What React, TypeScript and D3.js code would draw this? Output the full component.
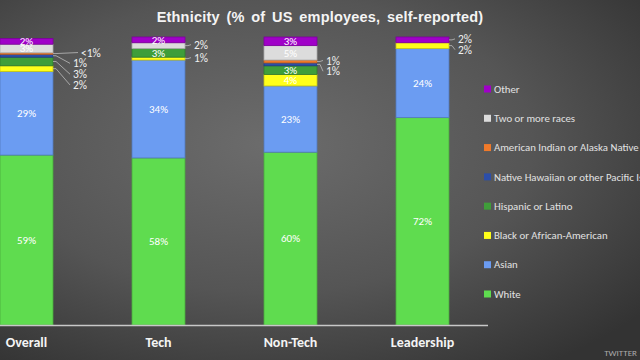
import React from 'react';
import * as d3 from 'd3';

const categories = ['Overall', 'Tech', 'Non-Tech', 'Leadership'];
// stacking order, bottom to top
const seriesNames = [
  'White',
  'Asian',
  'Black or African-American',
  'Hispanic or Latino',
  'Native Hawaiian or other Pacific Islander',
  'American Indian or Alaska Native',
  'Two or more races',
  'Other',
];
const seriesColors = ['#5fdc4f', '#6b9cf2', '#ffff1a', '#3f9e3a', '#2c4ea8', '#f07a2a', '#dcdcdc', '#a000c8'];

const white = [59, 58, 60, 72];
const asian = [29, 34, 23, 24];
const black = [2, 1, 4, 2];
const hispanic = [3, 3, 3, 0];
const hawaiian = [1, 0, 1, 0];
const americanIndian = [0.5, 0, 1, 0];
const twoOrMore = [3, 2, 5, 0];
const other = [2, 2, 3, 2];
const seriesValues = [white, asian, black, hispanic, hawaiian, americanIndian, twoOrMore, other];

// how each segment label is shown: 'in' inside, 'out' with a leader line, '' none
const labelModes = [
  ['in', 'in', 'in', 'in'],
  ['in', 'in', 'in', 'in'],
  ['out', 'out', 'in', 'out'],
  ['out', 'in', 'in', ''],
  ['out', '', 'out', ''],
  ['out', '', 'out', ''],
  ['in', 'out', 'in', ''],
  ['in', 'in', 'in', 'out'],
];
const labelText = (v: number) => (v < 1 ? '<1%' : `${v}%`);

const legendOrder = [7, 6, 5, 4, 3, 2, 1, 0];

const W = 640;
const H = 360;

export default function App() {
  const x = d3.scaleBand<string>().domain(categories).range([0, 449]).paddingInner(79 / 132).paddingOuter(0);
  const y = d3.scaleLinear().domain([0, 100]).range([325, 37]);

  const rows = categories.map((c, i) => {
    const r: any = { cat: c };
    seriesNames.forEach((s, k) => (r[s] = seriesValues[k][i]));
    return r;
  });
  const stacked = d3.stack<any>().keys(seriesNames)(rows);

  const legendY = d3.scalePoint<number>().domain(legendOrder).range([89, 294]);

  const font = 'Calibri, Carlito, "Open Sans", "DejaVu Sans", sans-serif';

  return (
    <svg width={W} height={H} style={{ position: 'absolute', left: 0, top: 0 }}>
      <defs>
        <radialGradient id="bg" cx="0.42" cy="0.4" r="0.75">
          <stop offset="0" stopColor="#6c6c6c" />
          <stop offset="0.55" stopColor="#555" />
          <stop offset="1" stopColor="#333" />
        </radialGradient>
      </defs>
      <rect width={W} height={H} fill="url(#bg)" />
      <text
        x={320}
        y={22}
        textAnchor="middle"
        fill="#f4f4f4"
        fontFamily="Arial, 'Liberation Sans', sans-serif"
        fontWeight="bold"
        fontSize={14.5}
        letterSpacing={0.2}
        wordSpacing={2.5}
      >
        Ethnicity (% of US employees, self-reported)
      </text>

      {stacked.map((layer, k) =>
        layer.map((d, i) => {
          const v = seriesValues[k][i];
          if (!v) return null;
          const fill = seriesColors[k];
          return (
            <rect
              key={`${k}-${i}`}
              x={x(categories[i])}
              y={y(d[1])}
              width={x.bandwidth()}
              height={y(d[0]) - y(d[1])}
              fill={fill}
              stroke={d3.color(fill)!.darker(0.7).toString()}
              strokeWidth={0.8}
            />
          );
        })
      )}

      {/* inside labels */}
      {stacked.map((layer, k) =>
        layer.map((d, i) => {
          const v = seriesValues[k][i];
          if (!v || labelModes[k][i] !== 'in') return null;
          return (
            <text
              key={`in-${k}-${i}`}
              x={x(categories[i])! + x.bandwidth() / 2}
              y={(y(d[0]) + y(d[1])) / 2}
              dy="0.35em"
              textAnchor="middle"
              fill="#fff"
              fontFamily={font}
              fontSize={11}
            >
              {labelText(v)}
            </text>
          );
        })
      )}

      {/* outside labels with leader lines */}
      {categories.map((c, i) => {
        const items = seriesNames
          .map((_, k) => k)
          .filter((k) => seriesValues[k][i] && labelModes[k][i] === 'out')
          .reverse();
        const right = x(c)! + x.bandwidth();
        const gap = items.length > 2 ? 20 : 9;
        let prev = -Infinity;
        return items.map((k) => {
          const d = stacked[k][i];
          const mid = (y(d[0]) + y(d[1])) / 2;
          const ly = Math.max(mid - 1, prev + 10.8);
          prev = ly;
          const tx = right + gap + (seriesValues[k][i] < 1 ? 8 : 0);
          return (
            <g key={`out-${k}-${i}`}>
              <polyline
                points={`${right},${mid} ${right + 3},${mid} ${tx - 3},${ly}`}
                fill="none"
                stroke="#bbb"
                strokeWidth={0.8}
              />
              <text x={tx} y={ly} dy="0.35em" fill="#f0f0f0" fontFamily={font} fontSize={11.5}>
                {labelText(seriesValues[k][i])}
              </text>
            </g>
          );
        });
      })}

      <line x1={0} x2={488} y1={325.5} y2={325.5} stroke="#c8c8c8" strokeWidth={1.5} />

      {categories.map((c) => (
        <text
          key={c}
          x={x(c)! + x.bandwidth() / 2}
          y={347}
          textAnchor="middle"
          fill="#f4f4f4"
          fontFamily={font}
          fontWeight="bold"
          fontSize={14}
        >
          {c}
        </text>
      ))}

      {legendOrder.map((k) => (
        <g key={`lg-${k}`} transform={`translate(484,${legendY(k)})`}>
          <rect x={0} y={-3.5} width={7} height={7} fill={seriesColors[k]} />
          <text x={10} y={0} dy="0.35em" fill="#e2e2e2" fontFamily={font} fontSize={10.8}>
            {seriesNames[k]}
          </text>
        </g>
      ))}

      <text x={637} y={356} textAnchor="end" fill="#aaa" fontFamily={font} fontSize={9}>
        TWITTER
      </text>
    </svg>
  );
}
